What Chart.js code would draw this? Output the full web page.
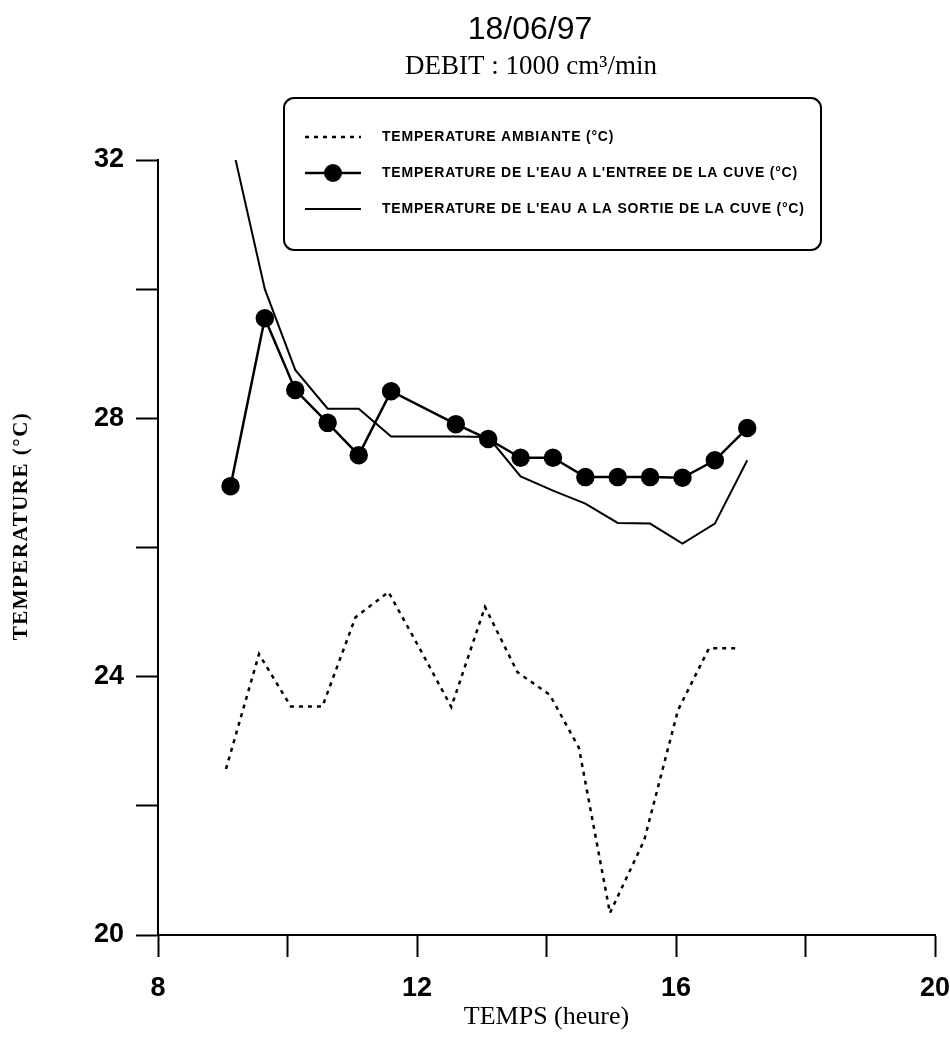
<!DOCTYPE html>
<html lang="fr">
<head>
<meta charset="utf-8">
<title>18/06/97 - DEBIT : 1000 cm³/min</title>
<script src="https://cdn.jsdelivr.net/npm/chart.js@4.4.1/dist/chart.umd.min.js"></script>
<style>
  html, body { margin: 0; padding: 0; background: #fff; }
  #graphe { display: block; }
</style>
</head>
<body>
<canvas id="graphe" width="950" height="1041"></canvas>
<script>
// heures de mesure (h)
const heuresEau = [9.12, 9.65, 10.12, 10.62, 11.1, 11.6, 12.1, 12.6, 13.1, 13.6, 14.1, 14.6, 15.1, 15.6, 16.1, 16.6, 17.1];
const heuresAmb = [9.05, 9.56, 10.05, 10.54, 11.05, 11.56, 12.05, 12.53, 13.05, 13.55, 14.05, 14.5, 14.98, 15.51, 16.03, 16.51, 16.97];

// temperatures (°C) ; null = pas de mesure
const tempAmbiante = [22.57, 24.35, 23.54, 23.54, 24.92, 25.31, 24.42, 23.53, 25.08, 24.07, 23.72, 22.9, 20.34, 21.47, 23.48, 24.44, 24.44];
const tempEntree = [26.95, 29.55, 28.44, 27.93, 27.43, 28.42, null, 27.91, 27.68, 27.39, 27.39, 27.09, 27.09, 27.09, 27.08, 27.35, 27.85];
const tempSortie = [32.35, 30.0, 28.75, 28.15, 28.15, 27.72, 27.72, 27.72, 27.71, 27.1, 26.88, 26.68, 26.38, 26.37, 26.06, 26.37, 27.35];

const ticksTemps = [8, 12, 16, 20];
const ticksTemp = [20, 24, 28, 32];

const libelles = [
  'TEMPERATURE AMBIANTE (°C)',
  "TEMPERATURE DE L'EAU A L'ENTREE DE LA CUVE (°C)",
  "TEMPERATURE DE L'EAU A LA SORTIE DE LA CUVE (°C)"
];

function points(xs, ys) {
  const res = [];
  xs.forEach((x, i) => {
    if (ys[i] !== null) res.push({ x, y: ys[i] });
  });
  return res;
}

// titres, titre vertical et cartouche de legende dessines a la main
const cartouche = {
  id: 'cartouche',
  afterDraw(chart) {
    const ctx = chart.ctx;
    ctx.save();
    ctx.fillStyle = '#000';
    ctx.textAlign = 'center';
    ctx.textBaseline = 'middle';
    ctx.font = '32px "Liberation Sans", Arial, sans-serif';
    ctx.fillText('18/06/97', 530, 30);
    ctx.font = '27px "Liberation Serif", "Times New Roman", serif';
    ctx.fillText('DEBIT : 1000 cm³/min', 531, 67);

    // titre de l'axe des temperatures
    ctx.save();
    ctx.translate(22, 526);
    ctx.rotate(-Math.PI / 2);
    ctx.font = 'bold 21px "Liberation Serif", "Times New Roman", serif';
    ctx.letterSpacing = '1.5px';
    ctx.fillText('TEMPERATURE (°C)', 0, 0);
    ctx.restore();

    // cadre arrondi
    const bx = 284, by = 98, bw = 537, bh = 152, r = 10;
    ctx.lineWidth = 2;
    ctx.strokeStyle = '#000';
    ctx.beginPath();
    ctx.roundRect(bx, by, bw, bh, r);
    ctx.stroke();

    const lignesY = [137, 173, 209];
    chart.data.datasets.forEach((ds, i) => {
      const y = lignesY[i];
      ctx.beginPath();
      ctx.lineWidth = ds.borderWidth;
      ctx.setLineDash(ds.borderDash || []);
      ctx.moveTo(305, y);
      ctx.lineTo(361, y);
      ctx.stroke();
      ctx.setLineDash([]);
      if (ds.pointRadius > 0) {
        ctx.beginPath();
        ctx.arc(333, y, ds.pointRadius + 1, 0, Math.PI * 2);
        ctx.fill();
      }
      ctx.textAlign = 'left';
      ctx.font = 'bold 14px "Liberation Sans", Arial, sans-serif';
      ctx.letterSpacing = '0.8px';
      ctx.fillText(ds.label, 382, y);
      ctx.letterSpacing = '0px';
    });
    ctx.restore();
  }
};

const axeCommun = {
  type: 'linear',
  border: { display: true, color: '#000', width: 2 },
  grid: {
    drawOnChartArea: false,
    drawTicks: true,
    tickLength: 22,
    tickColor: '#000',
    tickWidth: 2
  }
};

const policeGraduation = { family: '"Liberation Sans", Arial, sans-serif', size: 27, weight: 'bold' };

new Chart(document.getElementById('graphe'), {
  type: 'line',
  data: {
    datasets: [
      {
        label: libelles[0],
        data: points(heuresAmb, tempAmbiante),
        borderColor: '#000',
        borderWidth: 2.5,
        borderDash: [4, 5],
        pointRadius: 0,
        tension: 0
      },
      {
        label: libelles[1],
        data: points(heuresEau, tempEntree),
        borderColor: '#000',
        borderWidth: 2.5,
        pointRadius: 8,
        pointBackgroundColor: '#000',
        pointBorderColor: '#000',
        tension: 0
      },
      {
        label: libelles[2],
        data: points(heuresEau, tempSortie),
        borderColor: '#000',
        borderWidth: 2,
        pointRadius: 0,
        tension: 0
      }
    ]
  },
  options: {
    responsive: false,
    animation: false,
    layout: { padding: { top: 160, right: 15, bottom: 8, left: 44 } },
    plugins: {
      legend: { display: false },
      tooltip: { enabled: false }
    },
    scales: {
      x: {
        ...axeCommun,
        min: 8,
        max: 20,
        ticks: {
          stepSize: 2,
          autoSkip: false,
          maxRotation: 0,
          padding: 15,
          color: '#000',
          font: policeGraduation,
          callback: v => ticksTemps.includes(v) ? v : ''
        },
        title: {
          display: true,
          text: 'TEMPS (heure)',
          color: '#000',
          font: { family: '"Liberation Serif", "Times New Roman", serif', size: 26 },
          padding: { top: 0, bottom: 0 }
        },
        afterFit(scale) {
          scale.height = 1041 - 8 - 935;
          scale.paddingLeft = 0;
          scale.paddingRight = 0;
        }
      },
      y: {
        ...axeCommun,
        min: 20,
        max: 32,
        ticks: {
          stepSize: 2,
          autoSkip: false,
          padding: 12,
          color: '#000',
          font: policeGraduation,
          callback: v => ticksTemp.includes(v) ? v : ''
        },
        afterFit(scale) {
          scale.width = 158 - 44;
          scale.paddingTop = 0;
          scale.paddingBottom = 0;
        }
      }
    }
  },
  plugins: [cartouche]
});
</script>
</body>
</html>
